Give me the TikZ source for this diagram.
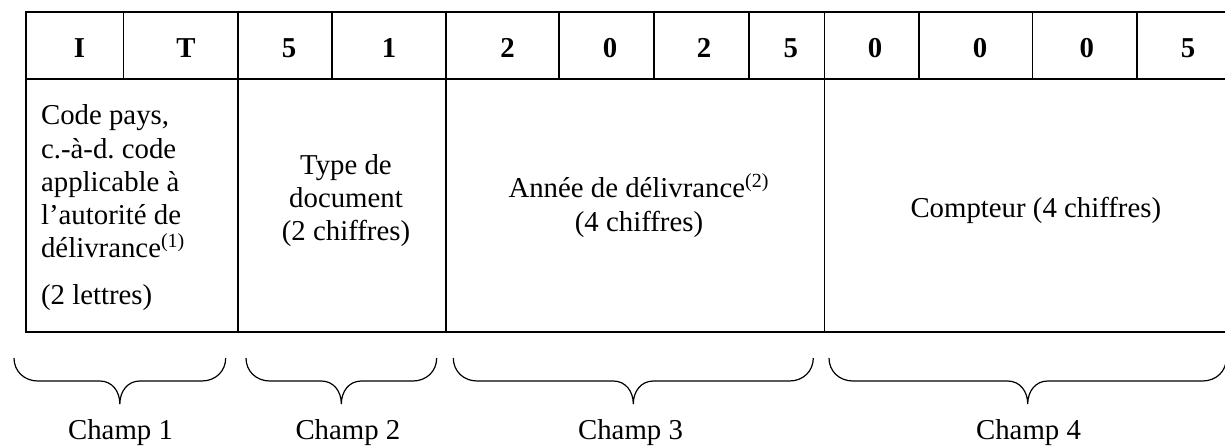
\documentclass[tikz,border=0pt]{standalone}
\usepackage{fontspec}
\setmainfont{Liberation Serif}
\frenchspacing
\newcommand\mybracepath[2]{%
  \pgfmathsetmacro\bmid{(#1+#2)/2}%
  \draw[brcline] (#1,358) .. controls (#1,371) and ({#1+10},381) .. ({#1+24},381)
    -- ({\bmid-20},381) .. controls ({\bmid-8},381) and (\bmid,391) .. (\bmid,404)
    .. controls (\bmid,391) and ({\bmid+8},381) .. ({\bmid+20},381)
    -- ({#2-24},381) .. controls ({#2-10},381) and (#2,371) .. (#2,358);}
\begin{document}
\begin{tikzpicture}[x=0.5pt,y=-0.5pt,
  grid/.style={line width=0.8pt},
  txt/.style={inner sep=0pt, font=\fontsize{14.4}{16.6}\selectfont},
  digit/.style={inner sep=0pt, font=\fontsize{14.4}{16.6}\selectfont\bfseries, anchor=base},
  brcline/.style={line width=0.6pt},
  champ/.style={txt, anchor=base}]
\useasboundingbox (0,0) rectangle (1225,446);
% table grid
\draw[grid] (25.7,12) rectangle (1231,331.7);
\draw[grid] (25.7,79) -- (1231,79);
\foreach \x in {123.3,332,559,654,748.7,919,1032.3,1136.7}
  \draw[grid] (\x,12) -- (\x,79);
\foreach \x in {238,446,824.3}
  \draw[grid] (\x,12) -- (\x,331.7);
% header digits
\node[digit] (h1) at (79.5,57.3) {I};
\node[digit] (h2) at (186,57.3) {T};
\node[digit] (h3) at (289,57.3) {5};
\node[digit] (h4) at (389,57.3) {1};
\node[digit] (h5) at (507.5,57.3) {2};
\node[digit] (h6) at (610,57.3) {0};
\node[digit] (h7) at (704,57.3) {2};
\node[digit] (h8) at (790.8,57.3) {5};
\node[digit] (h9) at (875,57.3) {0};
\node[digit] (h10) at (980,57.3) {0};
\node[digit] (h11) at (1086.7,57.3) {0};
\node[digit] (h12) at (1188,57.3) {5};
% descriptions
\node[txt, align=left, anchor=base west] (c1) at (40.7,304)
  {Code pays,\\c.-à-d.\ code\\applicable à\\l’autorité de\\délivrance\textsuperscript{(1)}\\[6.6pt](2 lettres)};
\node[txt, align=center, anchor=base] (c2) at (346,240.5)
  {Type de\\document\\(2 chiffres)};
\node[txt, align=center, anchor=base] (c3) at (639,231)
  {Année de délivrance\textsuperscript{(2)}\\(4 chiffres)};
\node[txt, anchor=base] (c4) at (1035.8,217) {Compteur (4 chiffres)};
% braces
\mybracepath{14}{225.7}
\mybracepath{246}{436.7}
\mybracepath{453.3}{813.3}
\mybracepath{829}{1226.4}
\node[champ] (f1) at (120.5,439) {Champ 1};
\node[champ] (f2) at (347.9,439) {Champ 2};
\node[champ] (f3) at (630.5,439) {Champ 3};
\node[champ] (f4) at (1028.5,439) {Champ 4};
\end{tikzpicture}
\end{document}
